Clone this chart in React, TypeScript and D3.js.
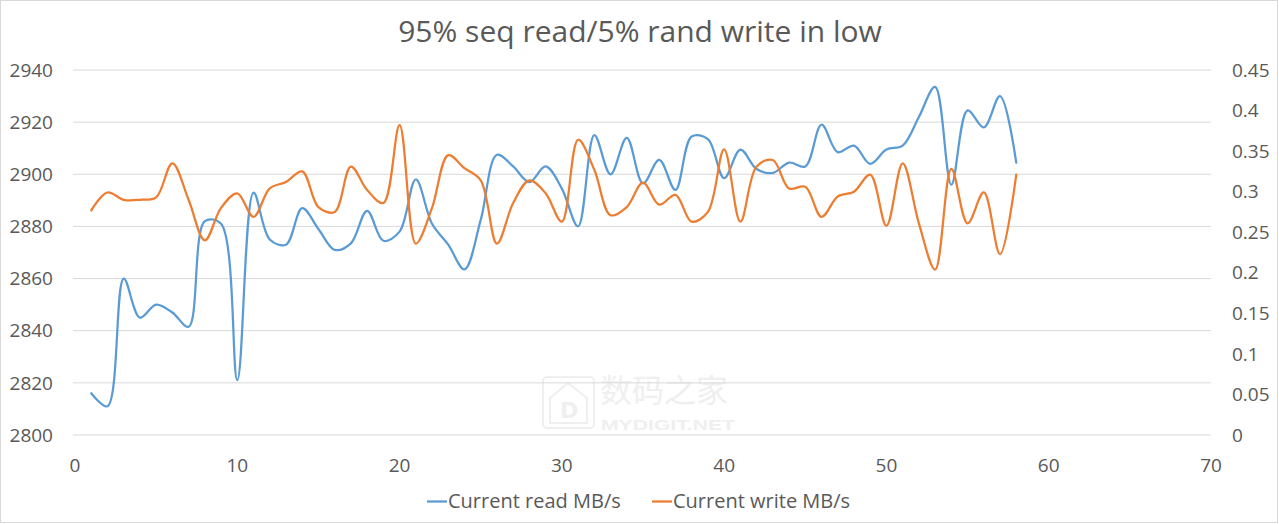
import React from "react";
import * as d3 from "d3";

const xValues = [
  1, 2, 3, 4, 5, 6, 7, 8, 9, 10, 11, 12, 13, 14, 15, 16, 17, 18, 19, 20,
  21, 22, 23, 24, 25, 26, 27, 28, 29, 30, 31, 32, 33, 34, 35, 36, 37, 38, 39, 40,
  41, 42, 43, 44, 45, 46, 47, 48, 49, 50, 51, 52, 53, 54, 55, 56, 57, 58,
];

const readMBs = [
  2816, 2811, 2860, 2845, 2850, 2847, 2841.5, 2882, 2881, 2821,
  2893, 2875, 2873, 2887, 2879, 2871, 2873.5, 2886, 2874.5, 2878,
  2898, 2881, 2873, 2863.5, 2882.5, 2907.5, 2903, 2897, 2903, 2894.5,
  2880, 2915, 2900, 2914, 2896.5, 2905.5, 2894, 2914.5, 2913.5, 2898.5,
  2909.5, 2902, 2900.5, 2904.5, 2903, 2919, 2908.5, 2911, 2904, 2909.5,
  2911, 2922, 2933.5, 2896, 2924.5, 2918, 2930, 2904.5,
];

const writeMBs = [
  0.277, 0.299, 0.29, 0.29, 0.293, 0.335, 0.29, 0.24, 0.28, 0.298,
  0.269, 0.304, 0.312, 0.325, 0.281, 0.275, 0.331, 0.302, 0.286, 0.382,
  0.236, 0.28, 0.345, 0.329, 0.314, 0.236, 0.286, 0.314, 0.298, 0.263,
  0.364, 0.327, 0.271, 0.281, 0.311, 0.284, 0.296, 0.263, 0.275, 0.352,
  0.263, 0.331, 0.339, 0.304, 0.306, 0.269, 0.294, 0.3, 0.321, 0.258,
  0.335, 0.261, 0.204, 0.328, 0.261, 0.299, 0.223, 0.321,
];

const xTicks = [0, 10, 20, 30, 40, 50, 60, 70];
const leftTicks = [2800, 2820, 2840, 2860, 2880, 2900, 2920, 2940];
const rightTicks = [0, 0.05, 0.1, 0.15, 0.2, 0.25, 0.3, 0.35, 0.4, 0.45];

const title = "95% seq read/5% rand write in low";
const seriesNames = ["Current read MB/s", "Current write MB/s"];

const W = 1279;
const H = 524;
const FONT = "'Open Sans', 'Noto Sans', sans-serif";
const TEXT = "#595959";
const GRID = "#d9d9d9";
const BLUE = "#5b9bd5";
const ORANGE = "#ed7d31";

export default function App() {
  const x = d3.scaleLinear().domain([0, 70]).range([75, 1211]);
  const yL = d3.scaleLinear().domain([2800, 2940]).range([435, 70]);
  const yR = d3.scaleLinear().domain([0, 0.45]).range([435, 70]);

  const readLine = d3
    .line<number>()
    .x((_, i) => x(xValues[i]))
    .y((d) => yL(d))
    .curve(d3.curveCatmullRom.alpha(0.5));
  const writeLine = d3
    .line<number>()
    .x((_, i) => x(xValues[i]))
    .y((d) => yR(d))
    .curve(d3.curveCatmullRom.alpha(0.5));

  const fmtR = (v: number) => (v === 0 ? "0" : String(+v.toFixed(2)));

  return (
    <svg
      width={W}
      height={H}
      style={{ position: "absolute", left: 0, top: 0, display: "block", background: "#fff" }}
      fontFamily={FONT}
    >
      <rect x={0.5} y={0.5} width={W - 2} height={H - 2} fill="#fff" stroke={GRID} />
      {/* watermark */}
      <g opacity={0.55}>
        <rect x={543} y={377} width={51} height={51} rx={4} fill="none" stroke="#e3e3e3" strokeWidth={2} />
        <path d="M550,398 L568,383 L587,398 L587,423 L550,423 Z" fill="none" stroke="#e3e3e3" strokeWidth={2} />
        <text x={560} y={418} fontSize={22} fontWeight="bold" fill="#e3e3e3" fontFamily="'DejaVu Sans', sans-serif">D</text>
        <text x={600} y={402} fontSize={32} fill="#e3e3e3" fontFamily="'Noto Sans CJK SC', sans-serif">数码之家</text>
        <text x={601} y={430} fontSize={15} fontWeight="bold" fill="#e3e3e3" textLength={134} lengthAdjust="spacingAndGlyphs" fontFamily="'Liberation Sans', sans-serif">MYDIGIT.NET</text>
      </g>
      <text x={640} y={42} textAnchor="middle" fontSize={30} fill={TEXT}>
        {title}
      </text>
      {leftTicks.map((t) => (
        <line key={"g" + t} x1={x(0) - 2} x2={x(70)} y1={yL(t)} y2={yL(t)} stroke={GRID} strokeWidth={1} />
      ))}
      {leftTicks.map((t) => (
        <text key={"l" + t} x={53} y={yL(t)} dy="0.35em" textAnchor="end" fontSize={19} fill={TEXT}>
          {t}
        </text>
      ))}
      {rightTicks.map((t) => (
        <text key={"r" + t} x={1232} y={yR(t)} dy="0.35em" textAnchor="start" fontSize={19} fill={TEXT}>
          {fmtR(t)}
        </text>
      ))}
      {xTicks.map((t) => (
        <text key={"x" + t} x={x(t)} y={472} textAnchor="middle" fontSize={19} fill={TEXT}>
          {t}
        </text>
      ))}
      <path d={readLine(readMBs) || ""} fill="none" stroke={BLUE} strokeWidth={2.25} strokeLinecap="round" strokeLinejoin="round" />
      <path d={writeLine(writeMBs) || ""} fill="none" stroke={ORANGE} strokeWidth={2.25} strokeLinecap="round" strokeLinejoin="round" />
      {/* legend */}
      <line x1={427} x2={447} y1={501.5} y2={501.5} stroke={BLUE} strokeWidth={2.25} />
      <text x={448} y={508} fontSize={20} fill={TEXT}>{seriesNames[0]}</text>
      <line x1={652} x2={672} y1={501.5} y2={501.5} stroke={ORANGE} strokeWidth={2.25} />
      <text x={673} y={508} fontSize={20} fill={TEXT}>{seriesNames[1]}</text>
    </svg>
  );
}
